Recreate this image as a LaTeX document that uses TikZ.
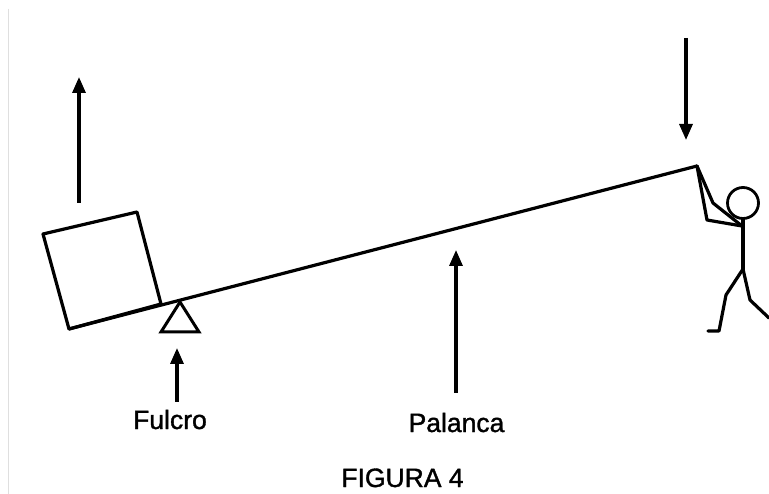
\documentclass[tikz,border=0pt]{standalone}
\usepackage{fontspec}
\setmainfont{Liberation Sans}
\newfontfamily\lblfont[FakeBold=1.3]{Liberation Sans}
\usetikzlibrary{arrows.meta}
\begin{document}
\begin{tikzpicture}[x=1pt,y=-1pt,
  ink/.style={line width=3.2pt, line join=round, line cap=round},
  force/.style={line width=3.2pt, -{Triangle[length=16pt,width=13pt]}},
  lbl/.style={anchor=base, inner sep=0pt, font=\lblfont\fontsize{26.5}{30}\selectfont}]
\useasboundingbox (0,0) rectangle (769,494);
\fill[white] (0,0) rectangle (769,494);
% faint margin rule
\draw[line width=1.5pt, gray!25] (8.5,9) -- (8.5,494);

% lever and load
\coordinate (lb) at (69,329);
\coordinate (lt) at (697,166);
\draw[ink] (lb) -- (lt);
\draw[ink] (lb) -- (161,304) -- (137,212) -- (43,234) -- cycle;

% fulcrum
\draw[ink, line width=3pt, line join=miter] (180,302) -- (199,332) -- (161,332) -- cycle;

% stick figure
\coordinate (sh) at (742,226);
\coordinate (hip) at (743,269);
\draw[ink, line width=2.8pt] (743,203) circle (15.5);
\draw[ink] (743,219) -- (hip);
\draw[ink] (lt) -- (707,220) -- (sh);
\draw[ink] (lt) -- (713,203) -- (sh);
\draw[ink] (hip) -- (726,295) -- (719,331) -- (708,331);
\draw[ink] (hip) -- (750,300) -- (769,318);

% forces
\coordinate (a1s) at (79,203); \coordinate (a1e) at (79,77);
\coordinate (a2s) at (686,38); \coordinate (a2e) at (686,140);
\coordinate (a3s) at (177,402); \coordinate (a3e) at (177,348);
\coordinate (a4s) at (456,393); \coordinate (a4e) at (456,250);
\draw[force] (a1s) -- (a1e);
\draw[force] (a2s) -- (a2e);
\draw[force] (a3s) -- (a3e);
\draw[force] (a4s) -- (a4e);

% labels
\node[lbl] (fulcro) at (170,429) {Fulcro};
\node[lbl] (palanca) at (456.5,432) {Palanca};
\node[lbl] (figura) at (402.5,487) {FIGURA 4};
\end{tikzpicture}
\end{document}
